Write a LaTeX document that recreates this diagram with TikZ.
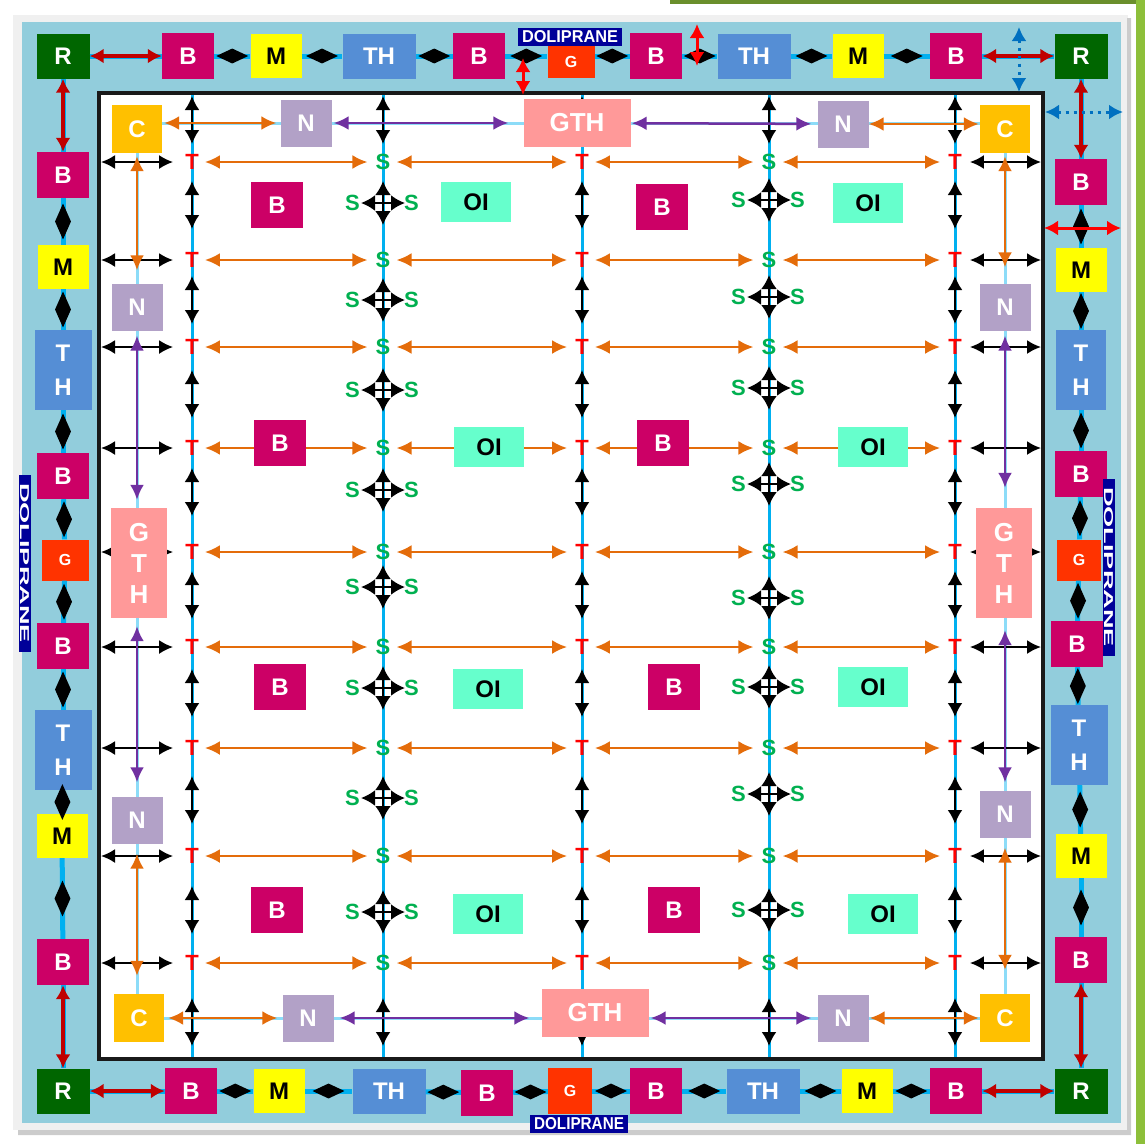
\documentclass[tikz,border=0pt]{standalone}
\usepackage{fontspec}
\usepackage{graphicx}
\setmainfont{Liberation Sans}
\usetikzlibrary{positioning,shapes.geometric,arrows.meta}

\definecolor{panel}{HTML}{92CDDC}
\definecolor{wire}{HTML}{00B0F0}
\definecolor{rgreen}{HTML}{006600}
\definecolor{bpink}{HTML}{CC0066}
\definecolor{myellow}{HTML}{FFFF00}
\definecolor{thblue}{HTML}{558ED5}
\definecolor{gred}{HTML}{FF3300}
\definecolor{camber}{HTML}{FFC000}
\definecolor{nlilac}{HTML}{B2A1C7}
\definecolor{gthpink}{HTML}{FF9999}
\definecolor{oiaqua}{HTML}{66FFCC}
\definecolor{darkred}{HTML}{C00000}
\definecolor{orng}{HTML}{E46C0A}
\definecolor{purp}{HTML}{7030A0}
\definecolor{sgreen}{HTML}{00B050}
\definecolor{navy}{HTML}{000099}
\definecolor{dblue}{HTML}{0070C0}
\definecolor{slidegreen}{HTML}{8DBF3A}

\newcommand{\cellfont}{\fontsize{24}{26}\selectfont\bfseries}
\newcommand{\thcolfont}{\fontsize{24}{34}\selectfont\bfseries}
\newcommand{\gthfont}{\fontsize{26}{28}\selectfont\bfseries}
\newcommand{\gthcolfont}{\fontsize{26}{31}\selectfont\bfseries}
\newcommand{\gsmallfont}{\fontsize{16}{16}\selectfont\bfseries}
\newcommand{\gridfont}{\fontsize{22}{22}\selectfont\bfseries}

\tikzset{
  % --- boxes -----------------------------------------------------------------
  cell/.style={rectangle,inner sep=0pt,minimum width=53pt,minimum height=45pt,
               text=white,font=\cellfont},
  rbox/.style={cell,fill=rgreen},
  bbox/.style={cell,fill=bpink,minimum width=52pt,minimum height=46pt},
  mbox/.style={cell,fill=myellow,text=black,minimum width=51pt,minimum height=44pt},
  thbox/.style={cell,fill=thblue,minimum width=73pt,minimum height=45pt},
  thcol/.style={cell,fill=thblue,minimum width=57pt,minimum height=80pt,
                align=center,font=\thcolfont},
  gbox/.style={cell,fill=gred,minimum width=47pt,minimum height=41pt,font=\gsmallfont},
  cbox/.style={cell,fill=camber,minimum width=50pt,minimum height=48pt},
  nbox/.style={cell,fill=nlilac,minimum width=51pt,minimum height=47pt},
  gthbox/.style={cell,fill=gthpink,minimum width=107pt,minimum height=48pt,font=\gthfont},
  gthcol/.style={cell,fill=gthpink,minimum width=56pt,minimum height=110pt,
                 align=center,font=\gthcolfont},
  oibox/.style={cell,fill=oiaqua,text=black,minimum width=70pt,minimum height=40pt},
  labeltag/.style={fill=navy,text=white,inner sep=0pt,minimum width=104pt,minimum height=18pt},
  sidetag/.style={fill=navy,text=white,inner sep=0pt,minimum width=177pt,minimum height=12pt},
  % --- grid letters ----------------------------------------------------------
  tlab/.style={text=red,font=\gridfont,inner sep=2pt},
  slab/.style={text=sgreen,font=\gridfont,inner sep=2pt},
  % --- links -----------------------------------------------------------------
  wireline/.style={wire,line width=5pt},
  gridline/.style={wire,line width=3pt},
  track/.style={wire!45,line width=3pt},
  ringdia/.style={diamond,fill=black,inner sep=0pt,minimum width=34pt,minimum height=17pt},
  ringdiav/.style={diamond,fill=black,inner sep=0pt,minimum width=18pt,minimum height=38pt},
  redarr/.style={{Latex[length=14pt,width=15pt]}-{Latex[length=14pt,width=15pt]},
                 darkred,line width=3.5pt},
  hotred/.style={{Latex[length=14pt,width=15pt]}-{Latex[length=14pt,width=15pt]},
                 red,line width=3pt},
  bluedot/.style={{Latex[length=14pt,width=15pt]}-{Latex[length=14pt,width=15pt]},
                  dblue,line width=3pt,dash pattern=on 3pt off 5pt},
  orarr/.style={{Latex[length=15pt,width=14pt]}-{Latex[length=15pt,width=14pt]},
                orng,line width=2.5pt},
  puarr/.style={{Latex[length=15pt,width=14pt]}-{Latex[length=15pt,width=14pt]},
                purp,line width=2.5pt},
  hdbl/.style={{Latex[length=14pt,width=14pt]}-{Latex[length=14pt,width=14pt]},
               black,line width=2pt},
  vdbl/.style={{Latex[length=14pt,width=15pt]}-{Latex[length=14pt,width=15pt]},
               black,line width=2.2pt},
  xdbl/.style={{Latex[length=14pt,width=16pt]}-{Latex[length=14pt,width=16pt]},
               black,line width=2.4pt},
}

\begin{document}
\begin{tikzpicture}[x=1pt,y=-1pt]
  \useasboundingbox (0,0) rectangle (1145,1144);

  % slide edge, frame and panel
  \fill[slidegreen] (1136,0) rectangle (1145,1144);
  \fill[slidegreen!75!black] (670,0) rectangle (1136,4);
  \fill[gray!12] (13,15) rectangle (1128,1130);
  \fill[gray!40] (1127,18) rectangle (1131,1135) (18,1130) rectangle (1131,1135);
  \fill[panel] (22,22) rectangle (1121,1123);
  \fill[white] (99,93) rectangle (1043,1059);

  % inner track and column wires
  \draw[track] (137,123) -- (1005,123) -- (1005,1018) -- (137,1018) -- cycle;
  \foreach \x [count=\c] in {192,383,582,769,955}{
    \coordinate (top\c) at (\x,95);
    \coordinate (bot\c) at (\x,1057);
    \draw[gridline] (top\c) -- (bot\c);
    \coordinate (u\c) at (\x,120);
    \coordinate (d\c) at (\x,1022);
    \draw[vdbl] ([yshift=24pt]u\c) -- ([yshift=-24pt]u\c);
    \draw[vdbl] ([yshift=24pt]d\c) -- ([yshift=-24pt]d\c);
  }

  % rows of T / S with their links
  \foreach \y [count=\r] in {162,260,347,448,552,647,748,856,963}{
    \node[tlab] (c1-\r) at (192,\y) {T};
    \node[slab] (c2-\r) at (383,\y) {S};
    \node[tlab] (c3-\r) at (582,\y) {T};
    \node[slab] (c4-\r) at (769,\y) {S};
    \node[tlab] (c5-\r) at (955,\y) {T};
    \coordinate (wl\r) at (101,\y);
    \coordinate (wr\r) at (1041,\y);
    \draw[hdbl,shorten >=10pt] (wl\r) -- (c1-\r);
    \draw[hdbl,shorten >=6pt] (wr\r) -- (c5-\r);
    \draw[orarr,shorten <=4pt,shorten >=6pt] (c1-\r) -- (c2-\r);
    \draw[orarr,shorten <=4pt,shorten >=6pt] (c2-\r) -- (c3-\r);
    \draw[orarr,shorten <=4pt,shorten >=6pt] (c3-\r) -- (c4-\r);
    \draw[orarr,shorten <=4pt,shorten >=6pt] (c4-\r) -- (c5-\r);
  }

  % T columns: vertical links between rows
  \foreach \x/\c in {192/1,582/3,955/5}{
    \foreach \y [count=\i] in {205,300,394,492,595,693,800,910}{
      \coordinate (v\c-\i) at (\x,\y);
      \draw[vdbl] ([yshift=24pt]v\c-\i) -- ([yshift=-24pt]v\c-\i);
    }
  }

  % S columns: crossings
  \foreach \y [count=\i] in {203,300,390,490,587,688,798,912}{
    \coordinate (k2-\i) at (383,\y);
    \draw[xdbl] ([yshift=22pt]k2-\i) -- ([yshift=-22pt]k2-\i);
    \draw[xdbl] ([xshift=-22pt]k2-\i) -- ([xshift=22pt]k2-\i);
    \node[slab,left=21pt of k2-\i] (sl2-\i) {S};
    \node[slab,right=19pt of k2-\i] (sr2-\i) {S};
  }
  \foreach \y [count=\i] in {200,297,388,484,598,687,794,910}{
    \coordinate (k4-\i) at (769,\y);
    \draw[xdbl] ([yshift=22pt]k4-\i) -- ([yshift=-22pt]k4-\i);
    \draw[xdbl] ([xshift=-22pt]k4-\i) -- ([xshift=22pt]k4-\i);
    \node[slab,left=21pt of k4-\i] (sl4-\i) {S};
    \node[slab,right=19pt of k4-\i] (sr4-\i) {S};
  }

  \draw[line width=4pt,black!90] (99,93) rectangle (1043,1059);

  % outer ring: top
  \node[rbox]  (r1)  at (63,56)   {R};
  \node[bbox]  (b1)  at (188,56)  {B};
  \node[mbox]  (m1)  at (276,56)  {M};
  \node[thbox] (th1) at (379,56)  {TH};
  \node[bbox]  (b2)  at (479,56)  {B};
  \node[gbox,minimum height=32pt] (g1) at (571,62) {G};
  \node[labeltag] (tg1) at (570,37) {\resizebox{96pt}{12pt}{\bfseries DOLIPRANE}};
  \node[bbox]  (b3)  at (656,56)  {B};
  \node[thbox] (th2) at (754,56)  {TH};
  \node[mbox]  (m2)  at (858,56)  {M};
  \node[bbox]  (b4)  at (956,56)  {B};
  \node[rbox]  (r2)  at (1081,56) {R};
  % outer ring: left
  \node[bbox]  (lb1)  at (63,175) {B};
  \node[mbox]  (lm1)  at (63,267) {M};
  \node[thcol] (lth1) at (63,370) {T\\H};
  \node[bbox]  (lb2)  at (63,476) {B};
  \node[gbox]  (lg)   at (65,560) {G};
  \node[bbox]  (lb3)  at (63,646) {B};
  \node[thcol] (lth2) at (63,750) {T\\H};
  \node[mbox]  (lm2)  at (62,836) {M};
  \node[bbox]  (lb4)  at (63,962) {B};
  \node[rbox]  (r3)   at (63,1091) {R};
  \node[sidetag,rotate=-90] (tl) at (25,563) {\resizebox{160pt}{9pt}{\bfseries DOLIPRANE}};
  % outer ring: right
  \node[bbox]  (rb1)  at (1081,182) {B};
  \node[mbox]  (rm1)  at (1081,270) {M};
  \node[thcol,minimum width=50pt] (rth1) at (1081,370) {T\\H};
  \node[bbox]  (rb2)  at (1081,474) {B};
  \node[gbox,minimum width=44pt] (rg) at (1079,560) {G};
  \node[bbox]  (rb3)  at (1077,644) {B};
  \node[thcol] (rth2) at (1079,745) {T\\H};
  \node[mbox]  (rm2)  at (1081,856) {M};
  \node[bbox]  (rb4)  at (1081,960) {B};
  \node[rbox]  (r4)   at (1081,1091) {R};
  \node[sidetag,rotate=-90] (tr) at (1109,567) {\resizebox{160pt}{9pt}{\bfseries DOLIPRANE}};
  % outer ring: bottom
  \node[bbox]  (bb1)  at (191,1091) {B};
  \node[mbox]  (bm1)  at (279,1091) {M};
  \node[thbox] (bth1) at (389,1091) {TH};
  \node[bbox]  (bb2)  at (487,1093) {B};
  \node[gbox,minimum width=44pt,minimum height=46pt] (bg) at (570,1091) {G};
  \node[labeltag,minimum width=98pt] (tg2) at (579,1124) {\resizebox{90pt}{12pt}{\bfseries DOLIPRANE}};
  \node[bbox]  (bb3)  at (656,1091) {B};
  \node[thbox] (bth2) at (763,1091) {TH};
  \node[mbox]  (bm2)  at (867,1091) {M};
  \node[bbox]  (bb4)  at (956,1091) {B};

  % inner ring
  \node[cbox]   (ctl)  at (137,129)  {C};
  \node[nbox]   (ntl)  at (306,123)  {N};
  \node[gthbox] (gtht) at (577,123)  {GTH};
  \node[nbox]   (ntr)  at (843,124)  {N};
  \node[cbox]   (ctr)  at (1005,129) {C};
  \node[nbox]   (nl1)  at (137,307)  {N};
  \node[gthcol] (gthl) at (139,563)  {G\\T\\H};
  \node[nbox]   (nl2)  at (137,820)  {N};
  \node[cbox]   (cbl)  at (139,1018) {C};
  \node[nbox]   (nbl)  at (308,1018) {N};
  \node[gthbox] (gthb) at (595,1013) {GTH};
  \node[nbox]   (nbr)  at (843,1018) {N};
  \node[cbox]   (cbr)  at (1005,1018) {C};
  \node[nbox]   (nr1)  at (1005,307) {N};
  \node[gthcol] (gthr) at (1004,563) {G\\T\\H};
  \node[nbox]   (nr2)  at (1005,814) {N};

  % field boxes
  \node[bbox]  (fb1) at (277,205) {B};
  \node[oibox] (oi1) at (476,202) {OI};
  \node[bbox]  (fb2) at (662,207) {B};
  \node[oibox] (oi2) at (868,203) {OI};
  \node[bbox]  (fb3) at (280,443) {B};
  \node[oibox] (oi3) at (489,447) {OI};
  \node[bbox]  (fb4) at (663,443) {B};
  \node[oibox] (oi4) at (873,447) {OI};
  \node[bbox]  (fb5) at (280,687) {B};
  \node[oibox] (oi5) at (488,689) {OI};
  \node[bbox]  (fb6) at (674,687) {B};
  \node[oibox] (oi6) at (873,687) {OI};
  \node[bbox]  (fb7) at (277,910) {B};
  \node[oibox] (oi7) at (488,914) {OI};
  \node[bbox]  (fb8) at (674,910) {B};
  \node[oibox] (oi8) at (883,914) {OI};

  % ring links
  \foreach \a/\b in {b1/m1,m1/th1,th1/b2,b3/th2,th2/m2,m2/b4,
                     bb1/bm1,bm1/bth1,bth1/bb2,bb2/bg,bg/bb3,bb3/bth2,bth2/bm2,bm2/bb4}
    \draw[wireline] (\a) -- node[ringdia] {} (\b);
  \draw[wireline] (b2) -- node[ringdia] {} (b2 -| g1.west);
  \draw[wireline] (g1.east |- b3) -- node[ringdia] {} (b3);
  \foreach \a/\b in {lb1/lm1,lm1/lth1,lth1/lb2,lb2/lg,lg/lb3,lb3/lth2,lth2/lm2,lm2/lb4,
                     rb1/rm1,rm1/rth1,rth1/rb2,rb2/rg,rg/rb3,rb3/rth2,rth2/rm2,rm2/rb4}
    \draw[wireline] (\a) -- node[ringdiav] {} (\b);
  \foreach \a/\b in {r1/b1,b4/r2,r1/lb1,r2/rb1,lb4/r3,rb4/r4,r3/bb1,bb4/r4}{
    \draw[wireline] (\a) -- (\b);
    \draw[redarr] (\a) -- (\b);
  }

  % stray arrows on the ring
  \coordinate (xa1) at (523,58);   \coordinate (xa2) at (523,95);
  \coordinate (xb1) at (697,24);   \coordinate (xb2) at (697,66);
  \coordinate (xc1) at (1044,228); \coordinate (xc2) at (1121,228);
  \coordinate (yd1) at (1019,27);  \coordinate (yd2) at (1019,92);
  \coordinate (ye1) at (1045,112); \coordinate (ye2) at (1123,112);
  \draw[hotred] (xa1) -- (xa2);
  \draw[hotred] (xb1) -- (xb2);
  \draw[hotred] (xc1) -- (xc2);
  \draw[bluedot] (yd1) -- (yd2);
  \draw[bluedot] (ye1) -- (ye2);

  % inner ring links
  \draw[orarr,shorten <=2pt,shorten >=4pt] (ctl.east |- ntl) -- (ntl);
  \draw[puarr,shorten <=2pt,shorten >=15pt] (ntl) -- (gtht);
  \draw[puarr,shorten <=1pt,shorten >=6pt] (gtht) -- (ntr);
  \draw[orarr,shorten >=1pt] (ntr) -- (ntr -| ctr.west);
  \draw[orarr,shorten <=4pt,shorten >=5pt] (cbl) -- (nbl);
  \draw[puarr,shorten <=6pt,shorten >=12pt] (nbl) -- (nbl -| gthb.west);
  \draw[puarr,shorten <=2pt,shorten >=6pt] (gthb.east |- nbr) -- (nbr);
  \draw[orarr,shorten <=1pt,shorten >=1pt] (nbr) -- (cbr);
  \draw[orarr,shorten <=3pt,shorten >=13pt] (ctl) -- (nl1);
  \draw[puarr,shorten <=5pt,shorten >=8pt] (nl1) -- (nl1 |- gthl.north);
  \draw[puarr,shorten <=8pt,shorten >=14pt] (nl2 |- gthl.south) -- (nl2);
  \draw[orarr,shorten <=10pt,shorten >=18pt] (nl2) -- (nl2 |- cbl.north);
  \draw[orarr,shorten <=3pt,shorten >=16pt] (ctr) -- (nr1);
  \draw[puarr,shorten <=5pt,shorten >=20pt] (nr1) -- (nr1 |- gthr.north);
  \draw[puarr,shorten <=12pt,shorten >=8pt] (nr2 |- gthr.south) -- (nr2);
  \draw[orarr,shorten <=10pt,shorten >=24pt] (nr2) -- (cbr);
\end{tikzpicture}
\end{document}
